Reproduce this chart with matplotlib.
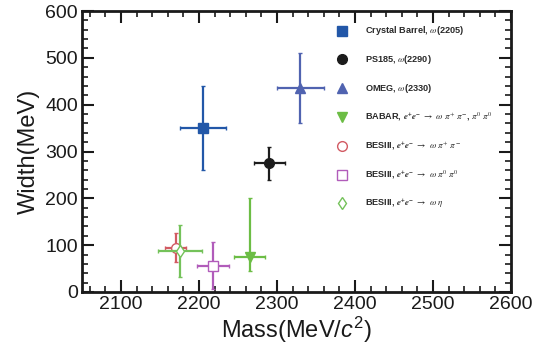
import matplotlib
matplotlib.use("Agg")
import matplotlib.pyplot as plt
from matplotlib.ticker import MultipleLocator

plt.rcParams["font.family"] = ["Liberation Sans", "DejaVu Sans"]
plt.rcParams["mathtext.fontset"] = "custom"
plt.rcParams["mathtext.rm"] = "Liberation Sans"
plt.rcParams["mathtext.it"] = "Liberation Sans:italic"
plt.rcParams["mathtext.bf"] = "Liberation Sans:bold"

# Resonance measurements: mass, width and their uncertainties
labels = [
    r"Crystal Barrel, $\omega$(2205)",
    r"PS185, $\omega$(2290)",
    r"OMEG, $\omega$(2330)",
    r"BABAR, $\mathbfit{e^{+}e^{-}}$ $\rightarrow$ $\omega\ \pi^{+}\ \pi^{-}$, $\pi^{0}\ \pi^{0}$",
    r"BESIII, $\mathbfit{e^{+}e^{-}}$ $\rightarrow$ $\omega\ \pi^{+}\ \pi^{-}$",
    r"BESIII, $\mathbfit{e^{+}e^{-}}$ $\rightarrow$ $\omega\ \pi^{0}\ \pi^{0}$",
    r"BESIII, $\mathbfit{e^{+}e^{-}}$ $\rightarrow$ $\omega\ \eta$",
]
mass = [2205, 2290, 2330, 2265, 2170, 2218, 2176]
mass_err_lo = [30, 20, 30, 20, 13, 20, 28]
mass_err_hi = [30, 20, 30, 20, 13, 20, 28]
width = [350, 275, 435, 75, 95, 56, 88]
width_err_lo = [90, 35, 75, 30, 30, 50, 55]
width_err_hi = [90, 35, 75, 125, 30, 50, 55]

colors = ["#2257a8", "#1c1c1c", "#5063b0", "#6cbd45", "#d25a63", "#b15cba", "#74c25a"]
markers = ["s", "o", "^", "v", "o", "s", "d"]
filled = [True, True, True, True, False, False, False]
msizes = [7.5, 7, 7.5, 7.5, 7, 7, 6]

fig = plt.figure(figsize=(5.36, 3.53), dpi=100)
ax = fig.add_axes([82 / 536, 1 - 292 / 353, 429 / 536, 281 / 353])

draw_order = [0, 1, 2, 3, 6, 5, 4]
for i in draw_order:
    face = colors[i] if filled[i] else "white"
    ax.errorbar(
        mass[i], width[i],
        xerr=[[mass_err_lo[i]], [mass_err_hi[i]]],
        yerr=[[width_err_lo[i]], [width_err_hi[i]]],
        fmt=markers[i], color=colors[i], mfc=face, mec=colors[i],
        ms=msizes[i], mew=1.0, elinewidth=1.6, capsize=1.6, capthick=1.6,
        zorder=3 + i,
    )

# Key: marker column and label column, one row per measurement
key_x_marker = 0.606
key_x_text = 0.660
key_y0 = 0.930
key_dy = 0.1025
for i, lab in enumerate(labels):
    y = key_y0 - i * key_dy
    face = colors[i] if filled[i] else "white"
    ax.plot([key_x_marker], [y], marker=markers[i], color=colors[i],
            mfc=face, mec=colors[i], ms=msizes[i], mew=1.0,
            transform=ax.transAxes, clip_on=False, zorder=5)
    ax.text(key_x_text, y, lab, transform=ax.transAxes, fontsize=6.6,
            fontweight="bold", color="#2a2a2a", va="center", ha="left",
            math_fontfamily="stix")

ax.set_xlim(2050, 2600)
ax.set_ylim(0, 600)
ax.xaxis.set_major_locator(MultipleLocator(100))
ax.xaxis.set_minor_locator(MultipleLocator(20))
ax.yaxis.set_major_locator(MultipleLocator(100))
ax.yaxis.set_minor_locator(MultipleLocator(20))
ax.tick_params(which="both", direction="in", top=True, right=True,
               colors="#1a1a1a", labelcolor="#1a1a1a")
ax.tick_params(which="major", length=8.5, width=1.5, labelsize=14, pad=3)
ax.tick_params(which="minor", length=4.2, width=1.2)
for s in ax.spines.values():
    s.set_linewidth(2.0)
    s.set_color("#1a1a1a")

ax.set_xlabel(r"Mass(MeV/$\mathit{c}^{2}$)", fontsize=17, color="#1a1a1a", labelpad=1)
ax.set_ylabel("Width(MeV)", fontsize=17, color="#1a1a1a", labelpad=4)

fig.savefig("out.png", dpi=100)
